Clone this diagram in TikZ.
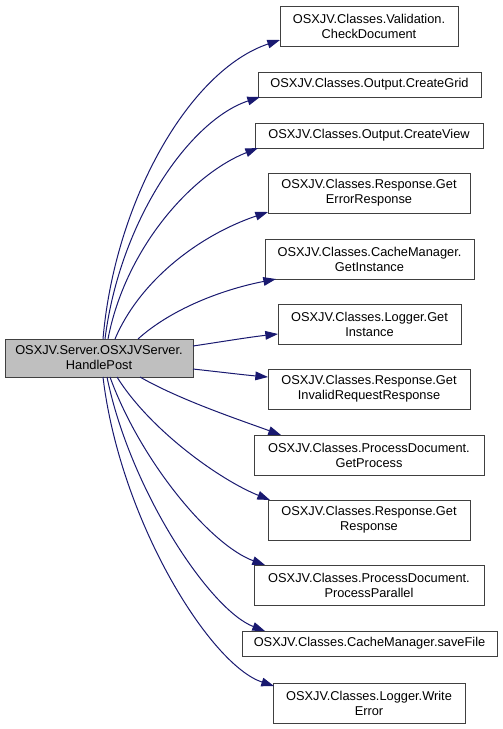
\documentclass[tikz,border=0pt]{standalone}
\usepackage{fontspec}
\setmainfont{Liberation Sans}
\usetikzlibrary{arrows.meta,calc}
\definecolor{edgeblue}{HTML}{191970}
\definecolor{boxline}{HTML}{404040}
\definecolor{mainfill}{HTML}{BFBFBF}
\begin{document}
\begin{tikzpicture}[x=0.75pt,y=-0.75pt,
  box/.style={draw=boxline,line width=0.75pt,fill=white,anchor=north west,align=center,
    inner sep=0pt,outer sep=0pt,font=\fontsize{9.6}{11.25}\selectfont},
  mainbox/.style={box,fill=mainfill},
  edge/.style={draw=edgeblue,line width=0.75pt,-{Triangle[length=9.5pt,width=6.5pt]}}]
\useasboundingbox[fill=white] (0,0) rectangle (503,729);
\node[mainbox,minimum width=141pt,minimum height=28.5pt] (m) at (5,339) {OSXJV.Server.OSXJVServer.\\HandlePost};
\node[box,minimum width=133.5pt,minimum height=30pt] (t1) at (280,6) {OSXJV.Classes.Validation.\\CheckDocument};
\node[box,minimum width=167.25pt,minimum height=18.75pt] (t2) at (258,72) {OSXJV.Classes.Output.CreateGrid};
\node[box,minimum width=171pt,minimum height=18.75pt] (t3) at (255,123) {OSXJV.Classes.Output.CreateView};
\node[box,minimum width=151.5pt,minimum height=30pt] (t4) at (268,173) {OSXJV.Classes.Response.Get\\ErrorResponse};
\node[box,minimum width=156.75pt,minimum height=30pt] (t5) at (265,239) {OSXJV.Classes.CacheManager.\\GetInstance};
\node[box,minimum width=137.25pt,minimum height=30pt] (t6) at (278,304) {OSXJV.Classes.Logger.Get\\Instance};
\node[box,minimum width=151.5pt,minimum height=30pt] (t7) at (268,369) {OSXJV.Classes.Response.Get\\InvalidRequestResponse};
\node[box,minimum width=172.5pt,minimum height=30pt] (t8) at (254,435) {OSXJV.Classes.ProcessDocument.\\GetProcess};
\node[box,minimum width=151.5pt,minimum height=30pt] (t9) at (268,500) {OSXJV.Classes.Response.Get\\Response};
\node[box,minimum width=172.5pt,minimum height=30pt] (t10) at (254,565) {OSXJV.Classes.ProcessDocument.\\ProcessParallel};
\node[box,minimum width=191.25pt,minimum height=18.75pt] (t11) at (242,631) {OSXJV.Classes.CacheManager.saveFile};
\node[box,minimum width=144pt,minimum height=30pt] (t12) at (273,683) {OSXJV.Classes.Logger.Write\\Error};
% upper edges
\draw[edge] ($(m.north west)+(98,0)$) .. controls (115,200) and (190,70) .. ($(t1.south west)+(0,-6)$);
\draw[edge] ($(m.north west)+(100,0)$) .. controls (120,220) and (190,120) .. ($(t2.south west)+(2,0)$);
\draw[edge] ($(m.north west)+(103,0)$) .. controls (125,250) and (190,175) .. ($(t3.south west)+(3,0)$);
\draw[edge] ($(m.north west)+(110,0)$) .. controls (140,280) and (200,235) .. ($(t4.south west)+(0,-1)$);
\draw[edge] ($(m.north west)+(133,0)$) .. controls (170,310) and (220,290) .. ($(t5.south west)+(11,0)$);
\draw[edge] ($(m.north east)+(0,7)$) .. controls (220,342) and (250,337) .. ($(t6.north west)+(0,30)$);
\draw[edge] ($(m.north east)+(0,30)$) .. controls (220,372) and (245,375) .. ($(t7.north west)+(0,8)$);
% lower edges
\draw[edge] ($(m.south west)+(135,0)$) .. controls (180,400) and (240,420) .. ($(t8.north west)+(27,0)$);
\draw[edge] ($(m.south west)+(112,0)$) .. controls (150,430) and (220,480) .. ($(t9.north west)+(2,0)$);
\draw[edge] ($(m.south west)+(105,0)$) .. controls (140,460) and (210,545) .. ($(t10.north west)+(11,0)$);
\draw[edge] ($(m.south west)+(102,0)$) .. controls (130,490) and (210,610) .. ($(t11.north west)+(23,0)$);
\draw[edge] ($(m.south west)+(98,0)$) .. controls (120,520) and (210,665) .. ($(t12.north west)+(1,3)$);
\end{tikzpicture}
\end{document}
